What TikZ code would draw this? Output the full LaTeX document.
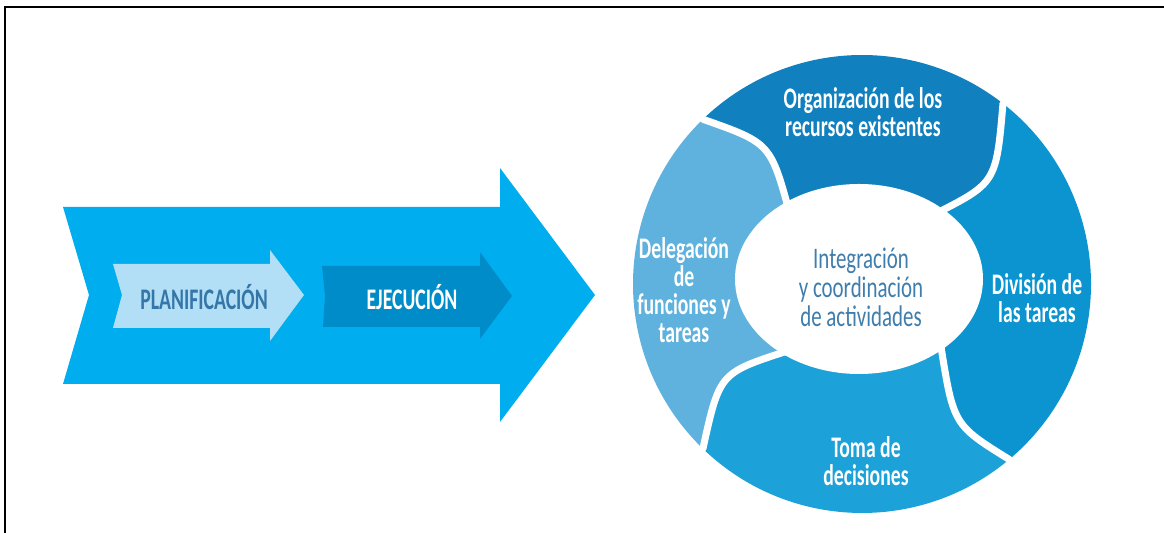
\documentclass[tikz,border=0pt]{standalone}
\usepackage{fontspec}
\newfontfamily\segfont[FakeStretch=0.66]{Carlito}
\newfontfamily\midfont[FakeStretch=0.70]{Carlito}
\definecolor{bigarrow}{RGB}{0,174,239}
\definecolor{planarrow}{RGB}{178,223,245}
\definecolor{ejecarrow}{RGB}{0,140,200}
\definecolor{plantext}{RGB}{52,118,168}
\definecolor{centertext}{RGB}{62,125,172}
\definecolor{segorg}{RGB}{16,128,190}
\definecolor{segdiv}{RGB}{12,148,208}
\definecolor{segtoma}{RGB}{28,162,216}
\definecolor{segdel}{RGB}{96,178,222}
\begin{document}
\begin{tikzpicture}[x=0.02cm,y=0.02cm,
  frame/.style={draw=black,line width=1.2pt},
  gapline/.style={draw=white,line width=4pt,line cap=round},
  seglabel/.style={text=white,align=center,inner sep=0pt,
    font=\segfont\bfseries\fontsize{17}{16}\selectfont},
  arrowlabel/.style={anchor=base,inner sep=0pt,
    font=\segfont\bfseries\fontsize{17}{17}\selectfont},
  centerlabel/.style={text=centertext,align=center,inner sep=0pt,
    font=\midfont\fontsize{17}{16.5}\selectfont}]
\useasboundingbox (0,0) rectangle (1164,533);
% frame (top and left edges)
\draw[frame] (1166,526) -- (5,526) -- (5,-2);
% big arrow
\fill[bigarrow] (63,326) -- (500,326) -- (500,365) -- (595,238) -- (500,111)
  -- (500,149) -- (63,149) -- (89,238) -- cycle;
% planificacion arrow
\fill[planarrow] (113,269) -- (270,269) -- (270,283) -- (304,238) -- (270,192)
  -- (270,205) -- (113,205) -- (122,238) -- cycle;
% ejecucion arrow
\fill[ejecarrow] (322,267) -- (480,267) -- (480,281) -- (512,237) -- (480,194)
  -- (480,206) -- (323,206) -- (325,237) -- cycle;
\node[arrowlabel,text=plantext] (plan) at (204,223) {PLANIFICACIÓN};
\node[arrowlabel,text=white] (ejec) at (412,223) {EJECUCIÓN};
% ring
\begin{scope}[shift={(862,249)}]
  % Organizacion (top)
  \fill[segorg] (0,0) -- (44:100) .. controls (37:168) .. (52:229)
    arc[start angle=52,end angle=134,radius=229]
    .. controls (123:168) .. (136:100) -- cycle;
  % Delegacion (left)
  \fill[segdel] (0,0) -- (136:100) .. controls (123:168) .. (134:229)
    arc[start angle=134,end angle=226,radius=229]
    .. controls (212:168) .. (222:100) -- cycle;
  % Toma (bottom)
  \fill[segtoma] (0,0) -- (222:100) .. controls (212:168) .. (226:229)
    arc[start angle=226,end angle=310,radius=229]
    .. controls (303:168) .. (322:100) -- cycle;
  % Division (right)
  \fill[segdiv] (0,0) -- (322:100) .. controls (303:168) .. (310:229)
    arc[start angle=310,end angle=412,radius=229]
    .. controls (397:168) .. (404:100) -- cycle;
  % gaps
  \draw[gapline] (134:229) .. controls (123:168) .. (136:100);
  \draw[gapline] (52:229) .. controls (37:168) .. (44:100);
  \draw[gapline] (310:229) .. controls (303:168) .. (322:100);
  \draw[gapline] (226:229) .. controls (212:168) .. (222:100);
  % inner white area
  \fill[white] (-3,5) ellipse[x radius=124,y radius=95];
  % labels
  \node[seglabel] (org) at (1,172) {Organización de los\\recursos existentes};
  \node[seglabel] (del) at (-178,-6) {Delegación\\de\\funciones y\\tareas};
  \node[seglabel] (div) at (175,-14) {División de\\las tareas};
  \node[seglabel] (toma) at (4,-177) {Toma de\\decisiones};
  \node[centerlabel] (integ) at (-1,-3) {Integración\\y coordinación\\de actividades};
\end{scope}
\end{tikzpicture}
\end{document}
